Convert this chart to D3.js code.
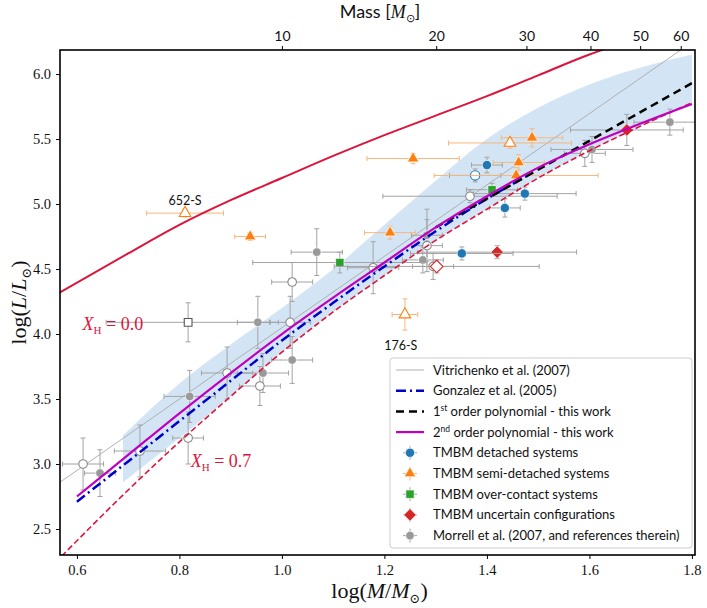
<!DOCTYPE html>
<html>
<head>
<meta charset="utf-8">
<script src="https://cdn.jsdelivr.net/npm/d3@7"></script>
<style>
  body { margin: 0; background: #fff; }
  text { fill: #111; }
</style>
</head>
<body>
<div id="chart"></div>
<script>
// ---- curves (log M, log L) ----
var xh0Mass = [0.567, 0.7, 0.8, 0.9, 1.0, 1.1, 1.2, 1.3, 1.4, 1.5, 1.6, 1.65];
var xh0Lum  = [4.32, 4.62, 4.84, 5.03, 5.2, 5.37, 5.53, 5.68, 5.83, 5.99, 6.15, 6.22];
var xh7Mass = [0.57, 0.7, 0.8, 0.9, 1.0, 1.1, 1.2, 1.3, 1.4, 1.5, 1.6, 1.7, 1.8];
var xh7Lum  = [2.29, 2.8, 3.17, 3.52, 3.86, 4.17, 4.45, 4.72, 4.96, 5.2, 5.41, 5.6, 5.78];
var fitMass = [0.6, 0.7, 0.8, 0.9, 1.0, 1.1, 1.2, 1.3, 1.4, 1.5, 1.6, 1.7, 1.8];
var fit2Lum = [2.75, 3.07, 3.39, 3.7, 4.0, 4.28, 4.55, 4.82, 5.06, 5.28, 5.46, 5.62, 5.77];
var gonzMass = [0.6, 0.7, 0.8, 0.9, 1.0, 1.1, 1.2, 1.3, 1.4, 1.48];
var gonzLum  = [2.71, 3.02, 3.33, 3.64, 3.95, 4.24, 4.52, 4.79, 5.04, 5.22];
var fit1Mass = [1.3, 1.8];
var fit1Lum  = [4.82, 5.93];
var vitrMass = [0.567, 1.78];
var vitrLum  = [2.86, 6.19];
var bandMass  = [0.69, 0.8, 0.9, 1.0, 1.1, 1.2, 1.3, 1.4, 1.5, 1.6, 1.7, 1.8];
var bandUpper = [3.22, 3.62, 3.92, 4.2, 4.5, 4.84, 5.18, 5.5, 5.74, 5.92, 6.05, 6.15];
var bandLower = [2.86, 3.2, 3.52, 3.86, 4.17, 4.45, 4.72, 4.96, 5.2, 5.41, 5.6, 5.76];

// ---- points: [logM, logL, err logM, err logL, open] ----
var detached = [
  [1.40, 5.30, 0.03, 0.06, 0], [1.474, 5.08, 0.10, 0.05, 0],
  [1.435, 4.97, 0.03, 0.07, 0], [1.351, 4.62, 0.10, 0.05, 0],
  [1.377, 5.22, 0.05, 0.05, 1]
];
var semiDetached = [
  [0.938, 4.75, 0.03, 0.03, 0], [1.211, 4.78, 0.05, 0.05, 0],
  [1.256, 5.35, 0.09, 0.04, 0], [1.488, 5.51, 0.06, 0.07, 0],
  [1.462, 5.32, 0.05, 0.06, 0], [1.457, 5.22, 0.16, 0.06, 0],
  [0.811, 4.93, 0.075, 0.03, 1], [1.24, 4.15, 0.025, 0.12, 1],
  [1.445, 5.47, 0.12, 0.04, 1]
];
var overContact = [
  [1.113, 4.55, 0.17, 0.08, 0], [1.41, 5.11, 0.05, 0.05, 0]
];
var uncertain = [
  [1.42, 4.63, 0.155, 0.05, 0], [1.673, 5.57, 0.11, 0.12, 0],
  [1.302, 4.52, 0.2, 0.05, 1]
];
var morrell = [
  [0.645, 2.93, 0.03, 0.18, 0], [0.82, 3.52, 0.05, 0.2, 0],
  [0.963, 3.70, 0.05, 0.15, 0], [1.02, 3.80, 0.04, 0.18, 0],
  [0.953, 4.09, 0.04, 0.2, 0], [1.068, 4.63, 0.05, 0.18, 0],
  [1.283, 4.76, 0.03, 0.2, 0], [1.275, 4.57, 0.04, 0.1, 0],
  [1.605, 5.42, 0.08, 0.1, 0], [1.757, 5.63, 0.07, 0.1, 0],
  [0.612, 3.00, 0.04, 0.2, 1], [0.723, 3.10, 0.05, 0.2, 1],
  [0.817, 3.20, 0.03, 0.2, 1], [0.893, 3.70, 0.05, 0.2, 1],
  [0.957, 3.60, 0.04, 0.15, 1], [1.016, 4.09, 0.04, 0.2, 1],
  [1.02, 4.40, 0.04, 0.15, 1], [1.178, 4.51, 0.05, 0.2, 1],
  [1.283, 4.68, 0.03, 0.2, 1], [1.295, 4.52, 0.04, 0.1, 1],
  [1.591, 5.39, 0.04, 0.1, 1], [1.367, 5.06, 0.17, 0.05, 1]
];
var openSquare = [[0.817, 4.09, 0.16, 0.15, 1]];

var xTicks = [0.6, 0.8, 1.0, 1.2, 1.4, 1.6, 1.8];
var yTicks = [2.5, 3.0, 3.5, 4.0, 4.5, 5.0, 5.5, 6.0];
var massTicks = [10, 20, 30, 40, 50, 60];

var legendLines = ["Vitrichenko et al. (2007)", "Gonzalez et al. (2005)"];
var legendMarks = ["TMBM detached systems", "TMBM semi-detached systems",
  "TMBM over-contact systems", "TMBM uncertain configurations",
  "Morrell et al. (2007, and references therein)"];

// ---- layout ----
var W = 707, H = 608;
var pLeft = 60, pRight = 695, pTop = 50, pBottom = 555;

var svg = d3.select("#chart").append("svg")
  .attr("width", W).attr("height", H)
  .style("display", "block");

var x = d3.scaleLinear().domain([0.567, 1.806]).range([pLeft, pRight]);
var y = d3.scaleLinear().domain([2.3, 6.185]).range([pBottom, pTop]);

svg.append("clipPath").attr("id", "clip")
  .append("rect").attr("x", pLeft).attr("y", pTop)
  .attr("width", pRight - pLeft).attr("height", pBottom - pTop);

var plot = svg.append("g").attr("clip-path", "url(#clip)");

function zipPts(a, b) { return a.map(function (d, i) { return [d, b[i]]; }); }

// band
var area = d3.area()
  .x(function (d) { return x(d[0]); })
  .y0(function (d) { return y(d[1]); })
  .y1(function (d) { return y(d[2]); })
  .curve(d3.curveMonotoneX);
plot.append("path")
  .datum(bandMass.map(function (m, i) { return [m, bandLower[i], bandUpper[i]]; }))
  .attr("d", area)
  .attr("fill", "#c4dcf1")
  .attr("opacity", 0.75);

var line = d3.line()
  .x(function (d) { return x(d[0]); })
  .y(function (d) { return y(d[1]); })
  .curve(d3.curveMonotoneX);

// vitrichenko thin line
plot.append("path").datum(zipPts(vitrMass, vitrLum))
  .attr("d", line).attr("fill", "none")
  .attr("stroke", "#a8a8a8").attr("stroke-width", 0.9);

// ---- error bars and markers ----
var greyBar = "#a3a3a3";
function drawSet(data, shape, size, color, barColor, rotate) {
  var g = plot.append("g");
  var bars = g.selectAll("g.bar").data(data).enter().append("g")
    .attr("stroke", barColor).attr("stroke-width", 1);
  bars.append("line")
    .attr("x1", function (d) { return x(d[0] - d[2]); })
    .attr("x2", function (d) { return x(d[0] + d[2]); })
    .attr("y1", function (d) { return y(d[1]); })
    .attr("y2", function (d) { return y(d[1]); });
  bars.append("line")
    .attr("x1", function (d) { return x(d[0]); })
    .attr("x2", function (d) { return x(d[0]); })
    .attr("y1", function (d) { return y(d[1] - d[3]); })
    .attr("y2", function (d) { return y(d[1] + d[3]); });
  // caps
  [-1, 1].forEach(function (s) {
    bars.append("line")
      .attr("x1", function (d) { return x(d[0] + s * d[2]); })
      .attr("x2", function (d) { return x(d[0] + s * d[2]); })
      .attr("y1", function (d) { return y(d[1]) - 2.5; })
      .attr("y2", function (d) { return y(d[1]) + 2.5; });
    bars.append("line")
      .attr("x1", function (d) { return x(d[0]) - 2.5; })
      .attr("x2", function (d) { return x(d[0]) + 2.5; })
      .attr("y1", function (d) { return y(d[1] + s * d[3]); })
      .attr("y2", function (d) { return y(d[1] + s * d[3]); });
  });
  return function () {
    g.selectAll("path.mk").data(data).enter().append("path")
      .attr("class", "mk")
      .attr("d", d3.symbol().type(shape).size(size))
      .attr("transform", function (d) {
        return "translate(" + x(d[0]) + "," + y(d[1]) + ")" + (rotate ? " rotate(45)" : "");
      })
      .attr("fill", function (d) { return d[4] ? "#fff" : color; })
      .attr("stroke", function (d) { return d[4] ? (color === "#999999" ? "#8a8a8a" : color) : "#fff"; })
      .attr("stroke-width", function (d) { return d[4] ? 1.1 : 0.7; });
  };
}

var sets = [
  drawSet(morrell, d3.symbolCircle, 58, "#999999", greyBar, false),
  drawSet(openSquare, d3.symbolSquare, 60, "#555555", greyBar, false),
  drawSet(overContact, d3.symbolSquare, 70, "#2ca02c", greyBar, false),
  drawSet(uncertain, d3.symbolSquare, 80, "#d62728", greyBar, true),
  drawSet(detached, d3.symbolCircle, 68, "#1f77b4", greyBar, false),
  drawSet(semiDetached, d3.symbolTriangle, 58, "#ff7f0e", "#f6b77c", false)
];

// ---- model lines ----
plot.append("path").datum(zipPts(xh0Mass, xh0Lum))
  .attr("d", line).attr("fill", "none")
  .attr("stroke", "#dc143c").attr("stroke-width", 2);
plot.append("path").datum(zipPts(xh7Mass, xh7Lum))
  .attr("d", line).attr("fill", "none")
  .attr("stroke", "#dc143c").attr("stroke-width", 1.6)
  .attr("stroke-dasharray", "6,3");
plot.append("path").datum(zipPts(gonzMass, gonzLum))
  .attr("d", line).attr("fill", "none")
  .attr("stroke", "#0000cd").attr("stroke-width", 2.5)
  .attr("stroke-dasharray", "10,4,2,4");
plot.append("path").datum(zipPts(fit1Mass, fit1Lum))
  .attr("d", line).attr("fill", "none")
  .attr("stroke", "#000").attr("stroke-width", 2.5)
  .attr("stroke-dasharray", "8,5");
plot.append("path").datum(zipPts(fitMass, fit2Lum))
  .attr("d", line).attr("fill", "none")
  .attr("stroke", "#c000c0").attr("stroke-width", 2.2);

sets.forEach(function (f) { f(); });

// ---- annotations ----
function label(m, l, txt, size, anchor) {
  svg.append("text").attr("x", x(m)).attr("y", y(l))
    .attr("text-anchor", anchor || "middle")
    .style("font-family", "Lato, 'Open Sans', sans-serif")
    .style("font-size", size + "px").text(txt);
}
label(0.811, 4.99, "652-S", 12.5);
label(1.232, 3.88, "176-S", 12.5);

function xhLabel(m, l, val) {
  var t = svg.append("text").attr("x", x(m)).attr("y", y(l))
    .style("font-family", "'Liberation Serif', 'DejaVu Serif', serif")
    .style("font-size", "18px");
  t.append("tspan").style("font-style", "italic").style("fill", "#dc143c").text("X");
  t.append("tspan").attr("dy", 4).style("font-size", "11px").style("fill", "#dc143c").text("H");
  t.append("tspan").attr("dy", -4).style("fill", "#dc143c").text(" = " + val);
}
xhLabel(0.611, 4.03, "0.0");
xhLabel(0.822, 2.98, "0.7");

// ---- axes ----
var axisFont = "'Liberation Serif', 'DejaVu Serif', serif";
var xAxis = svg.append("g").attr("transform", "translate(0," + pBottom + ")")
  .call(d3.axisBottom(x).tickValues(xTicks).tickSize(4).tickPadding(6)
    .tickFormat(d3.format(".1f")));
var yAxis = svg.append("g").attr("transform", "translate(" + pLeft + ",0)")
  .call(d3.axisLeft(y).tickValues(yTicks).tickSize(4).tickPadding(5)
    .tickFormat(d3.format(".1f")));
var tAxis = svg.append("g").attr("transform", "translate(0," + pTop + ")")
  .call(d3.axisTop(x).tickValues(massTicks.map(function (m) { return Math.log10(m); }))
    .tickSize(4).tickPadding(5)
    .tickFormat(function (d, i) { return massTicks[i]; }));
[xAxis, yAxis, tAxis].forEach(function (a) {
  a.select(".domain").remove();
  a.selectAll("line").attr("stroke", "#000");
  a.selectAll("text").style("font-size", "14.5px").style("fill", "#111");
});
xAxis.selectAll("text").style("font-family", axisFont);
yAxis.selectAll("text").style("font-family", axisFont);
tAxis.selectAll("text").style("font-family", "Lato, 'Open Sans', sans-serif").style("font-size", "14px");

svg.append("rect")
  .attr("x", pLeft).attr("y", pTop)
  .attr("width", pRight - pLeft).attr("height", pBottom - pTop)
  .attr("fill", "none").attr("stroke", "#000").attr("stroke-width", 1.6);

// axis titles
var xt = svg.append("text").attr("x", (pLeft + pRight) / 2 + 2).attr("y", 598)
  .attr("text-anchor", "middle")
  .style("font-family", axisFont).style("font-size", "22px");
xt.append("tspan").text("log(");
xt.append("tspan").style("font-style", "italic").text("M");
xt.append("tspan").text("/");
xt.append("tspan").style("font-style", "italic").text("M");
xt.append("tspan").attr("dy", 5).style("font-size", "13px").text("\u2299");
xt.append("tspan").attr("dy", -5).text(")");

var yt = svg.append("text")
  .attr("transform", "translate(26," + ((pTop + pBottom) / 2) + ") rotate(-90)")
  .attr("text-anchor", "middle")
  .style("font-family", axisFont).style("font-size", "22px");
yt.append("tspan").text("log(");
yt.append("tspan").style("font-style", "italic").text("L");
yt.append("tspan").text("/");
yt.append("tspan").style("font-style", "italic").text("L");
yt.append("tspan").attr("dy", 5).style("font-size", "13px").text("\u2299");
yt.append("tspan").attr("dy", -5).text(")");

var tt = svg.append("text").attr("x", 380).attr("y", 18)
  .attr("text-anchor", "middle")
  .style("font-family", "Lato, 'Open Sans', sans-serif").style("font-size", "18px");
tt.append("tspan").text("Mass [");
tt.append("tspan").style("font-family", axisFont).style("font-style", "italic").text("M");
tt.append("tspan").attr("dy", 4).style("font-size", "11px").text("\u2299");
tt.append("tspan").attr("dy", -4).text("]");

// ---- legend ----
var lg = svg.append("g");
lg.append("rect").attr("x", 390).attr("y", 358).attr("width", 302).attr("height", 190)
  .attr("rx", 3).attr("fill", "#fff").attr("fill-opacity", 0.85)
  .attr("stroke", "#cccccc");
var rowY = d3.range(9).map(function (i) { return 370 + i * 20.7; });
var lgFont = "Lato, 'Open Sans', sans-serif";
function lgText(i) {
  return lg.append("text").attr("x", 433).attr("y", rowY[i] + 4.5)
    .style("font-family", lgFont).style("font-size", "13px");
}
function lgLine(i, color, w, dash) {
  lg.append("line").attr("x1", 396).attr("x2", 424)
    .attr("y1", rowY[i]).attr("y2", rowY[i])
    .attr("stroke", color).attr("stroke-width", w)
    .attr("stroke-dasharray", dash || null);
}
lgLine(0, "#a8a8a8", 0.9);
lgText(0).text(legendLines[0]);
lgLine(1, "#0000cd", 2.5, "10,4,2,4");
lgText(1).text(legendLines[1]);
lgLine(2, "#000", 2.5, "8,5");
var t2 = lgText(2);
t2.append("tspan").text("1");
t2.append("tspan").attr("dy", -5).style("font-size", "8.5px").text("st");
t2.append("tspan").attr("dy", 5).text(" order polynomial - this work");
lgLine(3, "#c000c0", 2.2);
var t3 = lgText(3);
t3.append("tspan").text("2");
t3.append("tspan").attr("dy", -5).style("font-size", "8.5px").text("nd");
t3.append("tspan").attr("dy", 5).text(" order polynomial - this work");

var lgMarks = [
  [d3.symbolCircle, 68, "#1f77b4", greyBar, false],
  [d3.symbolTriangle, 58, "#ff7f0e", "#f6b77c", false],
  [d3.symbolSquare, 70, "#2ca02c", greyBar, false],
  [d3.symbolSquare, 80, "#d62728", greyBar, true],
  [d3.symbolCircle, 58, "#999999", greyBar, false]
];
lgMarks.forEach(function (m, k) {
  var i = k + 4, cy = rowY[i], cx = 410;
  lg.append("line").attr("x1", cx - 7).attr("x2", cx + 7).attr("y1", cy).attr("y2", cy)
    .attr("stroke", m[3]);
  lg.append("line").attr("x1", cx).attr("x2", cx).attr("y1", cy - 7).attr("y2", cy + 7)
    .attr("stroke", m[3]);
  lg.append("path").attr("d", d3.symbol().type(m[0]).size(m[1]))
    .attr("transform", "translate(" + cx + "," + cy + ")" + (m[4] ? " rotate(45)" : ""))
    .attr("fill", m[2]).attr("stroke", "#fff").attr("stroke-width", 0.7);
  lgText(i).text(legendMarks[k]);
});
</script>
</body>
</html>
